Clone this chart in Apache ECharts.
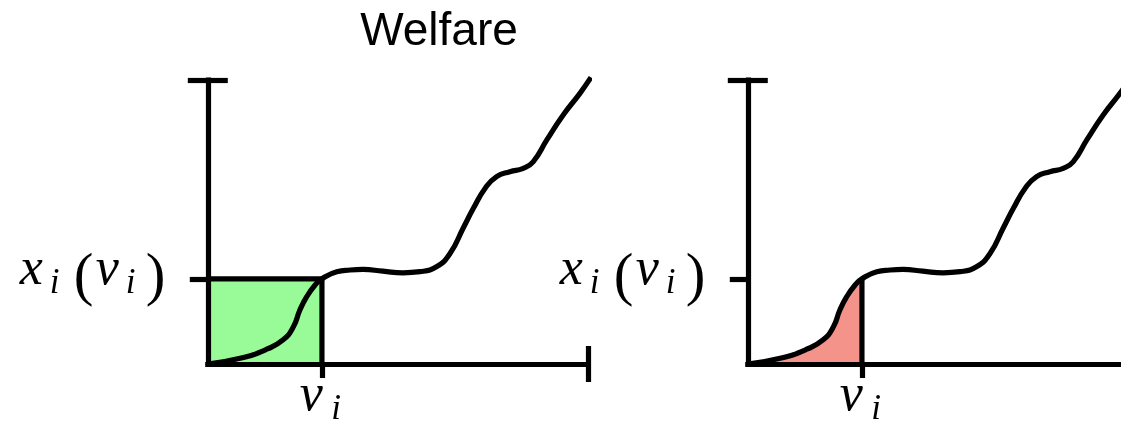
<!DOCTYPE html>
<html>
<head>
<meta charset="utf-8">
<script src="https://cdn.jsdelivr.net/npm/echarts@6/dist/echarts.min.js"></script>
<style>
  html, body { margin: 0; padding: 0; background: #fff; }
  #chart { width: 1121px; height: 426px; }
</style>
</head>
<body>
<div id="chart"></div>
<script>
// Allocation curve x_i(v) as a function of the value v
const curveX = [0, 0.85, 1.55, 1.98, 2.25, 2.42, 2.6, 2.82, 3, 3.39, 3.74, 4.08, 4.6, 5.13, 5.58, 6.02, 6.37, 6.71, 6.98, 7.29, 7.59, 7.94, 8.29, 8.55, 8.91, 9.34, 9.78, 10.07];
const curveY = [0, 0.2, 0.52, 0.85, 1.31, 1.9, 2.37, 2.78, 3, 3.25, 3.31, 3.33, 3.27, 3.21, 3.25, 3.43, 3.9, 4.78, 5.48, 6.19, 6.6, 6.77, 6.89, 7.12, 7.89, 8.77, 9.53, 10.09];

// Axis domains
const xRange = [0, 10];
const yRange = [0, 10];

// The chosen value v_i and its allocation x_i(v_i)
const valuation = 3;
const allocation = 3;

// Texts
const titleText = 'Welfare';
const yTickText = '{xa|x}{s1|i}{pl|(}{va|v}{s2|i}{pr|)}';
const xTickText = '{vb|v}{s3|i}';

const curve = curveX.map((x, i) => [x, curveY[i]]);

const BLACK = '#000';
const LINE_W = 5.2;
const PANEL = { top: 80, width: 380.5, height: 284 };
const PANEL_LEFT = [207.8, 747.8];

const mathIt = { fontFamily: 'Liberation Serif', fontStyle: 'italic', color: BLACK, align: 'left' };
const mathRm = { fontFamily: 'Liberation Serif', fontStyle: 'normal', color: BLACK, align: 'left' };
// italic letters, subscripts and upright parentheses, each placed within one 60px line
const mainTok = (w, h) => Object.assign({}, mathIt, { fontSize: 52, lineHeight: h, height: h, verticalAlign: 'top', width: w });
const subTok = (w, h) => Object.assign({}, mathIt, { fontSize: 35, lineHeight: h, height: h, verticalAlign: 'bottom', width: w });
const parTok = (w) => Object.assign({}, mathRm, { fontSize: 59, lineHeight: 60, height: 60, verticalAlign: 'middle', width: w });

const richLabels = {
  xa: mainTok(30, 44), s1: subTok(24, 50), pl: parTok(22), va: mainTok(30, 44), s2: subTok(20, 50), pr: parTok(17),
  vb: mainTok(31.5, 48), s3: subTok(13, 21)
};

function xAxisMain(g) {
  return {
    gridIndex: g, type: 'value', min: xRange[0], max: xRange[1], position: 'bottom', z: 5,
    axisLine: { show: true, onZero: false, lineStyle: { color: BLACK, width: LINE_W, cap: 'square' } },
    axisTick: { show: true, customValues: [valuation], length: 14, lineStyle: { color: BLACK, width: LINE_W } },
    axisLabel: { show: true, customValues: [valuation], margin: 8, formatter: () => xTickText, rich: richLabels },
    splitLine: { show: false }
  };
}
function yAxisMain(g) {
  return {
    gridIndex: g, type: 'value', min: yRange[0], max: yRange[1], position: 'left', z: 5,
    axisLine: { show: true, onZero: false, lineStyle: { color: BLACK, width: LINE_W, cap: 'square' } },
    axisTick: { show: true, customValues: [allocation], length: 18, lineStyle: { color: BLACK, width: LINE_W } },
    axisLabel: { show: true, customValues: [allocation], margin: 45, formatter: () => yTickText, rich: richLabels },
    splitLine: { show: false }
  };
}
// End caps: one tick pointing out of the plot, one pointing in
function xAxisCap(g, inside) {
  return {
    gridIndex: g, type: 'value', min: xRange[0], max: xRange[1], position: 'bottom', z: 5,
    axisLine: { show: false, onZero: false },
    axisTick: { show: true, inside: inside, customValues: [xRange[1]], length: 18, lineStyle: { color: BLACK, width: LINE_W } },
    axisLabel: { show: false }, splitLine: { show: false }
  };
}
function yAxisCap(g, inside) {
  return {
    gridIndex: g, type: 'value', min: yRange[0], max: yRange[1], position: 'left', z: 5,
    axisLine: { show: false, onZero: false },
    axisTick: { show: true, inside: inside, customValues: [yRange[1]], length: 20, lineStyle: { color: BLACK, width: LINE_W } },
    axisLabel: { show: false }, splitLine: { show: false }
  };
}

const grids = [
  Object.assign({ left: PANEL_LEFT[0] }, PANEL),
  Object.assign({ left: PANEL_LEFT[1] }, PANEL),
  // clipping window for the shaded area left of v_i
  Object.assign({}, PANEL, { left: PANEL_LEFT[1], width: PANEL.width * (valuation - xRange[0]) / (xRange[1] - xRange[0]) })
];
grids.forEach(g => { g.outerBoundsMode = 'none'; g.containLabel = false; });

const xAxes = [
  xAxisMain(0), xAxisCap(0, false), xAxisCap(0, true),
  xAxisMain(1), xAxisCap(1, false), xAxisCap(1, true),
  { gridIndex: 2, type: 'value', min: xRange[0], max: valuation, show: false }
];
const yAxes = [
  yAxisMain(0), yAxisCap(0, false), yAxisCap(0, true),
  yAxisMain(1), yAxisCap(1, false), yAxisCap(1, true),
  { gridIndex: 2, type: 'value', min: yRange[0], max: yRange[1], show: false }
];

const lineBase = { type: 'line', symbol: 'none', silent: true, animation: false };

const series = [
  // Welfare rectangle v_i * x_i(v_i)
  Object.assign({}, lineBase, {
    xAxisIndex: 0, yAxisIndex: 0,
    data: [[xRange[0], allocation], [valuation, allocation], [valuation, yRange[0]]],
    lineStyle: { color: BLACK, width: LINE_W },
    areaStyle: { color: '#98fb98', opacity: 1 }
  }),
  Object.assign({}, lineBase, {
    xAxisIndex: 0, yAxisIndex: 0, data: curve, smooth: 0.5, clip: false,
    lineStyle: { color: BLACK, width: LINE_W }
  }),
  // Area under the allocation curve up to v_i
  Object.assign({}, lineBase, {
    xAxisIndex: 6, yAxisIndex: 6, data: curve, smooth: 0.5, clip: true,
    lineStyle: { width: 0, opacity: 0 },
    areaStyle: { color: '#f3938a', opacity: 1 }
  }),
  Object.assign({}, lineBase, {
    xAxisIndex: 3, yAxisIndex: 3,
    data: [[valuation, allocation], [valuation, yRange[0]]],
    lineStyle: { color: BLACK, width: LINE_W }
  }),
  Object.assign({}, lineBase, {
    xAxisIndex: 3, yAxisIndex: 3, data: curve, smooth: 0.5, clip: false,
    lineStyle: { color: BLACK, width: LINE_W }
  })
];

const chart = echarts.init(document.getElementById('chart'), null, { renderer: 'canvas' });
chart.setOption({
  backgroundColor: '#fff',
  animation: false,
  title: {
    text: titleText, left: 439, top: 9, padding: 0, textAlign: 'center',
    textStyle: { fontFamily: 'Liberation Sans', fontSize: 46, fontWeight: 'normal', color: BLACK }
  },
  grid: grids,
  xAxis: xAxes,
  yAxis: yAxes,
  series: series
});
</script>
</body>
</html>
